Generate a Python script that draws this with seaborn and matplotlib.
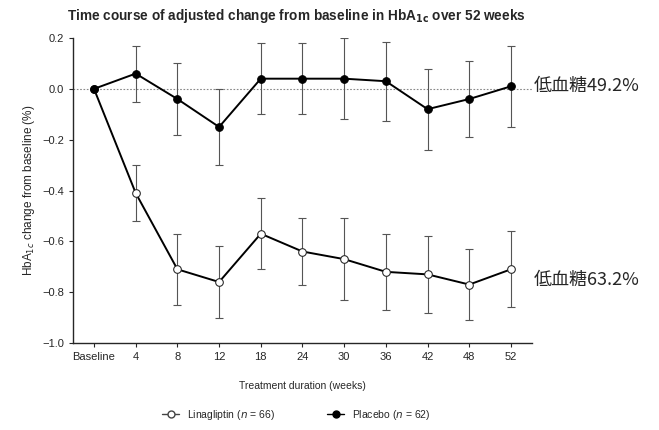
import numpy as np
import pandas as pd
import matplotlib
matplotlib.use("Agg")
import matplotlib.pyplot as plt
import seaborn as sns
from matplotlib.lines import Line2D

# Data
weeks = ["Baseline", "4", "8", "12", "18", "24", "30", "36", "42", "48", "52"]
lina_mean = [0.0, -0.41, -0.71, -0.76, -0.57, -0.64, -0.67, -0.72, -0.73, -0.77, -0.71]
lina_err = [0.0, 0.11, 0.14, 0.14, 0.14, 0.13, 0.16, 0.15, 0.15, 0.14, 0.15]
plac_mean = [0.0, 0.06, -0.04, -0.15, 0.04, 0.04, 0.04, 0.03, -0.08, -0.04, 0.01]
plac_err = [0.0, 0.11, 0.14, 0.15, 0.14, 0.14, 0.16, 0.155, 0.16, 0.15, 0.16]
yticks = [0.2, 0.0, -0.2, -0.4, -0.6, -0.8, -1.0]

sns.set_style("ticks")
plt.rcParams['font.family'] = ['Liberation Sans', 'Noto Sans CJK JP', 'DejaVu Sans']
plt.rcParams['axes.unicode_minus'] = False

pos = np.arange(len(weeks))
df = pd.DataFrame({
    "pos": np.concatenate([pos, pos]),
    "change": lina_mean + plac_mean,
    "group": ["Linagliptin"] * len(weeks) + ["Placebo"] * len(weeks),
})

fig = plt.figure(figsize=(6.59, 4.3), dpi=100)
ax = fig.add_axes([0.111, 0.2023, 0.696, 0.7093])

# zero reference line
ax.axhline(0, color="#888888", lw=0.8, ls=(0, (1.5, 1.5)), zorder=1)

# error bars
ax.errorbar(pos[1:], lina_mean[1:], yerr=lina_err[1:], fmt="none", ecolor="#555555",
            elinewidth=0.8, capsize=3, capthick=0.8, zorder=2)
ax.errorbar(pos[1:], plac_mean[1:], yerr=plac_err[1:], fmt="none", ecolor="#555555",
            elinewidth=0.8, capsize=3, capthick=0.8, zorder=2)

# lines
sns.lineplot(data=df[df.group == "Linagliptin"], x="pos", y="change", ax=ax,
             color="black", lw=1.4, marker="o", markersize=5.5,
             markerfacecolor="white", markeredgecolor="#222222", zorder=3)
sns.lineplot(data=df[df.group == "Placebo"], x="pos", y="change", ax=ax,
             color="black", lw=1.4, marker="o", markersize=5.5,
             markerfacecolor="black", markeredgecolor="black", zorder=4)

ax.set_xlim(-0.5, len(weeks) - 1 + 0.5)
ax.set_ylim(-1.0, 0.2)
ax.set_xticks(pos)
ax.set_xticklabels(weeks)
ax.set_yticks(yticks)
ax.set_yticklabels([f"{v:.1f}".replace("-", "\u2212") for v in yticks])
ax.tick_params(labelsize=8, length=3, width=0.8)
sns.despine(ax=ax)
for s in ["left", "bottom"]:
    ax.spines[s].set_linewidth(1.0)

ax.set_xlabel("Treatment duration (weeks)", fontsize=7.5, labelpad=14)
ax.set_ylabel("HbA$_{1c}$ change from baseline (%)", fontsize=8.5)
fig.text(0.45, 0.962, r"Time course of adjusted change from baseline in HbA$_\mathbf{1c}$ over 52 weeks",
         ha="center", va="center", fontsize=9.8, fontweight="bold")

# annotations
ax.text(1.005, (plac_mean[-1] + 1.0) / 1.2, "低血糖49.2%", transform=ax.transAxes,
        fontsize=13, va="center", ha="left", family=['Noto Sans CJK JP', 'DejaVu Sans'])
ax.text(1.005, (lina_mean[-1] + 1.0) / 1.2 - 0.035, "低血糖63.2%", transform=ax.transAxes,
        fontsize=13, va="center", ha="left", family=['Noto Sans CJK JP', 'DejaVu Sans'])

# legend
handles = [
    Line2D([], [], color="#444444", lw=1, marker="o", markersize=5,
           markerfacecolor="white", markeredgecolor="#444444"),
    Line2D([], [], color="black", lw=1, marker="o", markersize=5,
           markerfacecolor="black"),
]
fig.legend(handles, ["Linagliptin ($n$ = 66)", "Placebo ($n$ = 62)"],
           loc="center", bbox_to_anchor=(0.45, 0.035), ncol=2, frameon=False,
           fontsize=7.5, handlelength=1.6, columnspacing=5)

fig.savefig("out.png", dpi=100)
